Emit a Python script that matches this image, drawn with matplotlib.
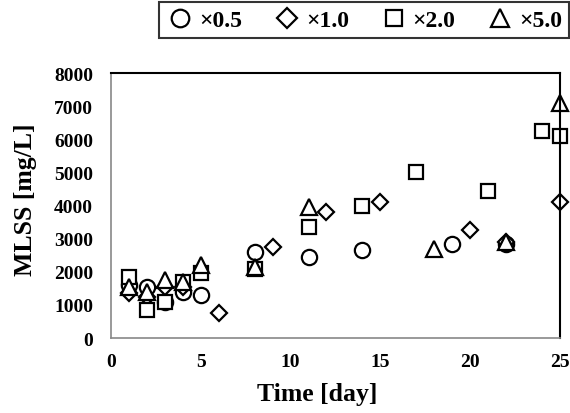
import matplotlib.pyplot as plt

# Data
days_05 = [1, 2, 3, 4, 5, 8, 11, 14, 19, 22]
mlss_05 = [1600, 1550, 1100, 1400, 1300, 2600, 2450, 2650, 2850, 2850]

days_10 = [1, 2, 3, 4, 6, 9, 12, 15, 20, 22, 25]
mlss_10 = [1350, 1250, 1550, 1550, 750, 2750, 3800, 4100, 3250, 2900, 4100]

days_20 = [1, 2, 3, 4, 5, 8, 11, 14, 17, 21, 24, 25]
mlss_20 = [1850, 850, 1100, 1700, 1950, 2100, 3350, 4000, 5000, 4450, 6250, 6100]

days_50 = [1, 2, 3, 4, 5, 8, 11, 18, 22, 25]
mlss_50 = [1550, 1400, 1750, 1700, 2200, 2150, 3950, 2700, 2900, 7100]

labels = ["×0.5", "×1.0", "×2.0", "×5.0"]

plt.rcParams['font.family'] = ['Liberation Serif', 'DejaVu Serif']
plt.rcParams['font.weight'] = 'bold'

# Creating the figure
fig = plt.figure(figsize=(5.7, 4.14), dpi=100)
ax = fig.add_axes([0.195, 0.181, 0.787, 0.640])

style = dict(linestyle='none', markerfacecolor='white', markeredgecolor='black',
             markeredgewidth=1.6, clip_on=False)
ax.plot(days_05, mlss_05, marker='o', markersize=11, label=labels[0], **style)
ax.plot(days_10, mlss_10, marker='D', markersize=8.5, label=labels[1], **style)
ax.plot(days_20, mlss_20, marker='s', markersize=10.5, label=labels[2], **style)
ax.plot(days_50, mlss_50, marker='^', markersize=11, label=labels[3], **style)

# Customizing axis
ax.set_xlim(0, 25)
ax.set_ylim(0, 8000)
ax.set_xticks([0, 5, 10, 15, 20, 25])
ax.set_yticks(range(0, 8001, 1000))
ax.tick_params(length=0, labelsize=14)
ax.tick_params(axis='x', pad=11)
ax.tick_params(axis='y', pad=13)
for lbl in ax.get_xticklabels() + ax.get_yticklabels():
    lbl.set_fontweight('bold')
ax.set_xlabel("Time [day]", fontsize=18.5, fontweight='bold')
ax.set_ylabel("MLSS [mg/L]", fontsize=18.5, fontweight='bold')
ax.xaxis.set_label_coords(0.459, -0.165)
ax.yaxis.set_label_coords(-0.165, 0.525)
for side in ['top', 'right']:
    ax.spines[side].set_linewidth(1.5)
for side in ['left', 'bottom']:
    ax.spines[side].set_color('#888888')
    ax.spines[side].set_linewidth(1.2)

leg = fig.legend(loc='center', bbox_to_anchor=(0.639, 0.949), ncol=4,
                 fontsize=17, frameon=True, fancybox=False, edgecolor='black',
                 handletextpad=0.2, columnspacing=1.3, borderpad=0.3,
                 handlelength=1.2, markerscale=1.15)
leg.get_frame().set_linewidth(1.5)
for t in leg.get_texts():
    t.set_fontweight('bold')

plt.savefig("out.png")
plt.close()
